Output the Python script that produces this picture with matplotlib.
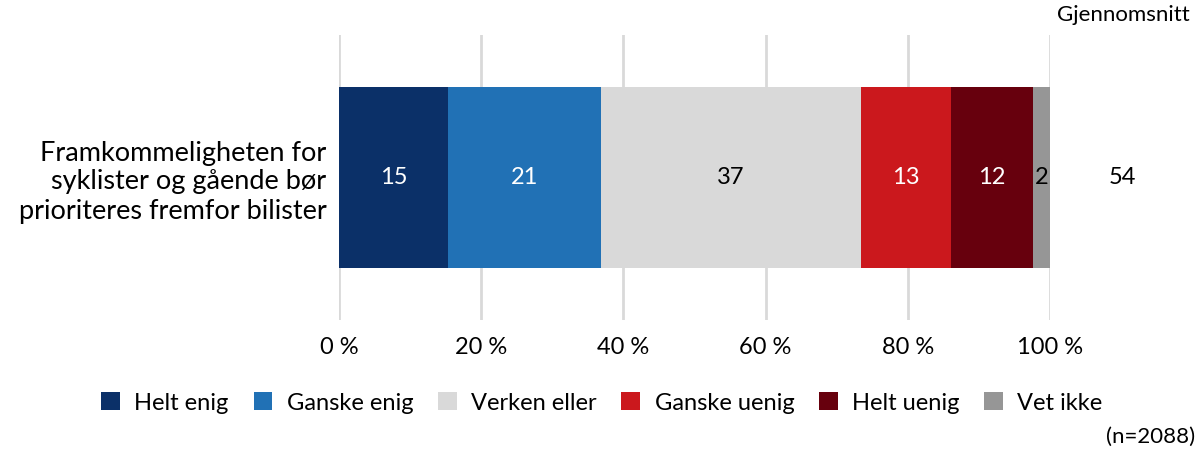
import matplotlib
matplotlib.use("Agg")
import matplotlib.pyplot as plt
from matplotlib.patches import Patch

category = "Framkommeligheten for\nsyklister og gående bør\nprioriteres fremfor bilister"
series = ["Helt enig", "Ganske enig", "Verken eller", "Ganske uenig", "Helt uenig", "Vet ikke"]
values = [15.3, 21.5, 36.6, 12.7, 11.5, 2.4]
labels = ["15", "21", "37", "13", "12", "2"]
colors = ["#0b3068", "#2171b5", "#d9d9d9", "#cb181d", "#67000d", "#969696"]
label_colors = ["white", "white", "black", "white", "white", "black"]
average = "54"
xticks = [0, 20, 40, 60, 80, 100]
xticklabels = ["0 %", "20 %", "40 %", "60 %", "80 %", "100 %"]

plt.rcParams['font.family'] = ['Lato', 'DejaVu Sans']

fig = plt.figure(figsize=(11.99, 4.5), dpi=100)
ax = fig.add_axes([339/1199, 1-320/450, 711/1199, 285/450])

left = 0
for v, lab, c, lc in zip(values, labels, colors, label_colors):
    ax.barh(0, v, left=left, height=0.635, color=c, zorder=2)
    ax.text(left + v/2, 0, lab, ha='center', va='center', color=lc, fontsize=17, zorder=3)
    left += v

ax.set_xlim(0, 100)
ax.set_ylim(-0.5, 0.5)
ax.set_xticks(xticks)
ax.set_xticklabels(xticklabels, fontsize=17)
ax.set_yticks([0])
ax.set_yticklabels([category], fontsize=19.5, linespacing=1.2)
ax.tick_params(axis='both', length=0)
ax.tick_params(axis='x', pad=12)
ax.tick_params(axis='y', pad=9)
ax.grid(axis='x', color='#d9d9d9', linewidth=2, zorder=0)
ax.set_axisbelow(True)
for s in ax.spines.values():
    s.set_visible(False)

fig.text(1122/1199, 1-178/450, average, ha='center', va='center', fontsize=17)
fig.text(1190/1199, 1-15/450, "Gjennomsnitt", ha='right', va='center', fontsize=16)
fig.text(1195/1199, 1-437/450, "(n=2088)", ha='right', va='center', fontsize=16)

handles = [Patch(facecolor=c, edgecolor='none') for c in colors]
fig.legend(handles, series, loc='center', bbox_to_anchor=(602/1199, 1-403/450), ncol=6,
           frameon=False, fontsize=17, handlelength=0.8, handleheight=0.8,
           handletextpad=0.6, columnspacing=1.05)

fig.savefig("out.png", dpi=100)
